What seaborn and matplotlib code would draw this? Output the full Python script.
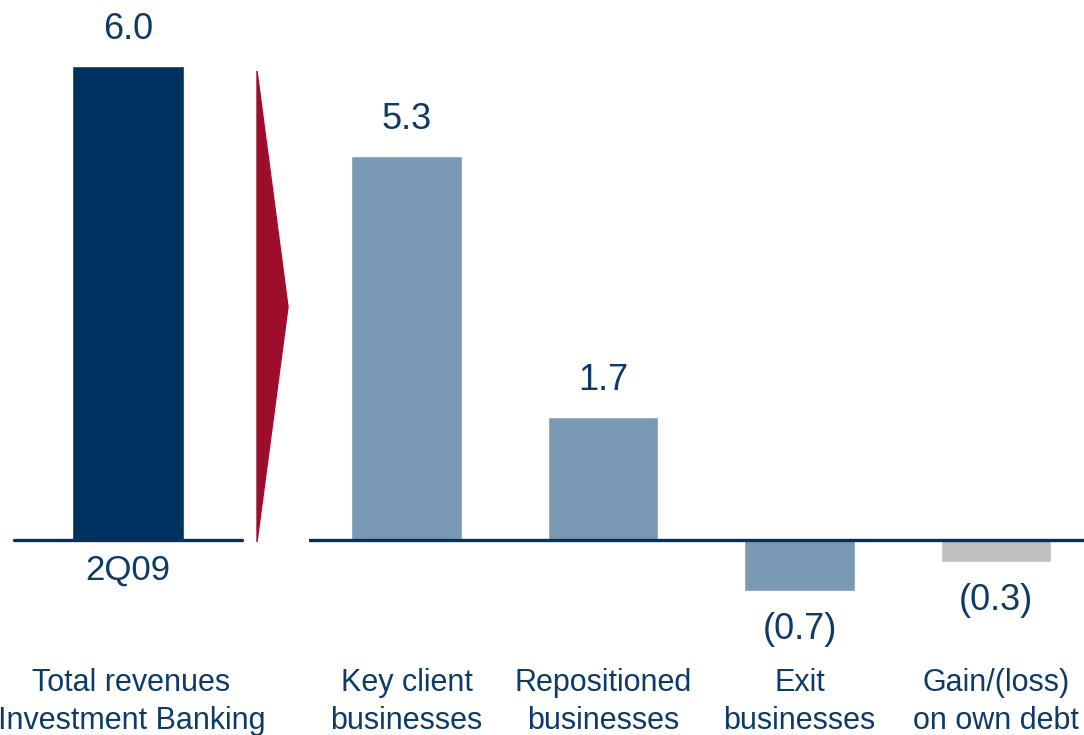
import matplotlib
matplotlib.use("Agg")
import matplotlib.pyplot as plt
from matplotlib.patches import Polygon
from matplotlib.transforms import blended_transform_factory
import seaborn as sns
import pandas as pd

# Data
total_label = ["2Q09"]
total_value = [6.0]
total_caption = "Total revenues\nInvestment Banking"

segments = ["Key client\nbusinesses", "Repositioned\nbusinesses",
            "Exit\nbusinesses", "Gain/(loss)\non own debt"]
segment_values = [5.3, 1.7, -0.7, -0.3]

NAVY = "#00325F"
TEXT = "#0D3A66"
LIGHT = "#7A99B5"
GREY = "#BFBFBF"
RED = "#9D0E2D"
segment_colors = [LIGHT, LIGHT, LIGHT, GREY]

sns.set_theme(style="white")
plt.rcParams["font.family"] = ["Liberation Sans", "DejaVu Sans"]

W, H = 1084, 735
fig = plt.figure(figsize=(W / 100, H / 100), dpi=100)


def fmt(v):
    return f"({abs(v):.1f})" if v < 0 else f"{v:.1f}"


# Left panel: total revenues
axL = fig.add_axes([0, 0, 300 / W, 1])
dfL = pd.DataFrame({"cat": total_label, "val": total_value})
sns.barplot(data=dfL, x="cat", y="val", color=NAVY, width=0.57,
            saturation=1, ax=axL)
axL.set_xlim(-128 / 196.5, (300 - 128) / 196.5)
axL.set_ylim(-195 / 79, 540 / 79)
axL.plot([-0.58, 0.58], [0, 0], color=NAVY, lw=2.4,
         solid_capstyle="round", zorder=5)
for p, v in zip(axL.patches, total_value):
    axL.annotate(fmt(v), (p.get_x() + p.get_width() / 2, v),
                 xytext=(0, 26), textcoords="offset points",
                 ha="center", va="center", fontsize=26, color=TEXT)
axL.annotate(total_label[0], (0, 0), xytext=(0, -21.5),
             textcoords="offset points", ha="center", va="center",
             fontsize=25, color=TEXT)
trL = blended_transform_factory(axL.transData, fig.transFigure)
axL.text(0.018, 1 - 702 / H, total_caption, transform=trL, ha="center",
         va="center", fontsize=22, color=TEXT, linespacing=1.38)
axL.axis("off")

# Right panel: breakdown by business
axR = fig.add_axes([309 / W, 0, (W - 309) / W, 1])
dfR = pd.DataFrame({"seg": segments, "val": segment_values})
sns.barplot(data=dfR, x="seg", y="val", hue="seg", palette=segment_colors,
            width=0.56, saturation=1, legend=False, ax=axR)
axR.set_xlim(-97.5 / 196.5, (W - 406.5) / 196.5)
axR.set_ylim(-195 / 72.5, 540 / 72.5)
axR.axhline(0, color=NAVY, lw=2.4, zorder=5)
for i, v in enumerate(segment_values):
    off = 26 if v >= 0 else -28
    axR.annotate(fmt(v), (i, v), xytext=(0, off), textcoords="offset points",
                 ha="center", va="center", fontsize=26, color=TEXT)
trR = blended_transform_factory(axR.transData, fig.transFigure)
for i, s in enumerate(segments):
    axR.text(i, 1 - 702 / H, s, transform=trR, ha="center", va="center",
             fontsize=22, color=TEXT, linespacing=1.38)
axR.axis("off")

# Transition arrow between the panels
arrow = Polygon([(257 / W, 1 - 71 / H), (288 / W, 1 - 307 / H),
                 (257 / W, 1 - 542 / H)], closed=True,
                transform=fig.transFigure, facecolor=RED, edgecolor=RED, lw=1)
fig.add_artist(arrow)

fig.savefig("out.png", dpi=100, facecolor="white")
